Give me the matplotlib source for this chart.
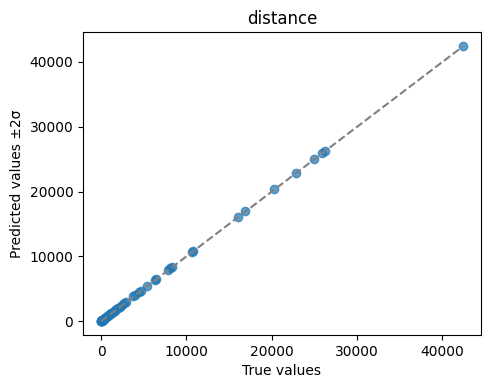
import matplotlib
matplotlib.use("Agg")
import matplotlib.pyplot as plt
import numpy as np

true_vals = [42400, 26200, 25900, 24900, 22800, 20300, 16900, 16000,
             10800, 10700, 8300, 8100, 7900, 6400, 6300, 5400, 4700, 4400,
             4000, 3800, 2900, 2700, 2500, 2200, 2000, 1800, 1600, 1500,
             1300, 1200, 1100, 1000, 900, 800, 700, 600, 500, 450, 400,
             350, 300, 250, 200, 150, 120, 100, 80, 60, 40, 20, 10, 5]
pred_vals = [42500, 26300, 25950, 25000, 22900, 20400, 16950, 16050,
             10800, 10650, 8350, 8150, 7950, 6450, 6300, 5450, 4700, 4450,
             4050, 3850, 2950, 2750, 2550, 2250, 2050, 1850, 1650, 1550,
             1350, 1250, 1150, 1050, 950, 850, 750, 650, 550, 480, 420,
             370, 320, 270, 220, 170, 140, 120, 100, 80, 60, 40, 30, 20]

fig, ax = plt.subplots(figsize=(4.9, 3.9), dpi=100)
ax.scatter(true_vals, pred_vals, alpha=0.7, color="C0")
lo, hi = min(true_vals), max(true_vals)
ax.plot([lo, hi], [lo, hi], "--", color="gray")
ax.set_title("distance")
ax.set_xlabel("True values")
ax.set_ylabel("Predicted values ±2σ")
fig.subplots_adjust(left=0.1694, right=0.9816, top=0.918, bottom=0.141)
fig.savefig("out.png", dpi=100)
